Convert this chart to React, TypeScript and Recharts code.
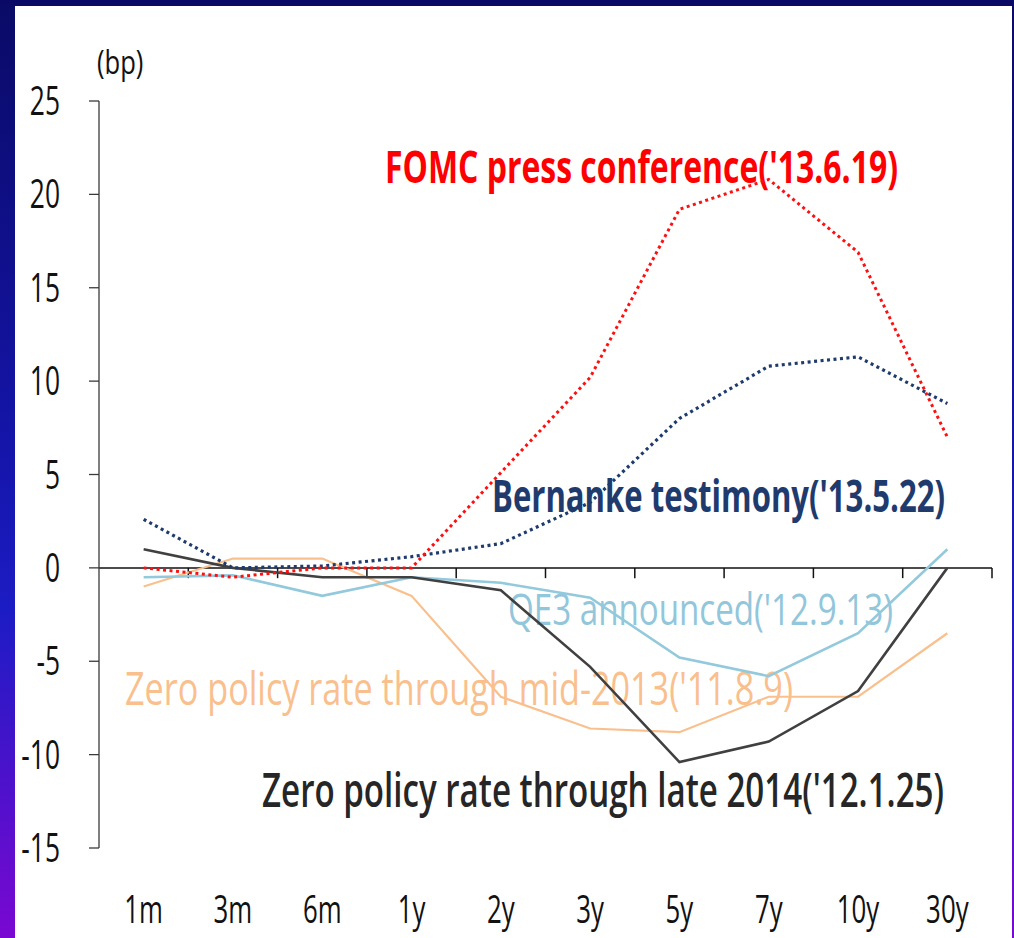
import React from "react";
import { LineChart, Line, XAxis, YAxis, ReferenceLine } from "recharts";

// yield change by maturity, bp
const tenors = ["1m", "3m", "6m", "1y", "2y", "3y", "5y", "7y", "10y", "30y"];
const fomcPress = [0, -0.5, 0, 0, 5.1, 10.2, 19.2, 20.8, 16.9, 7.0];
const bernanke = [2.6, 0, 0.1, 0.6, 1.3, 3.5, 8.0, 10.8, 11.3, 8.8];
const qe3 = [-0.5, -0.4, -1.5, -0.5, -0.8, -1.6, -4.8, -5.8, -3.5, 1.0];
const zeroMid2013 = [-1.0, 0.5, 0.5, -1.5, -6.9, -8.6, -8.8, -6.9, -6.9, -3.5];
const zeroLate2014 = [1.0, 0, -0.5, -0.5, -1.2, -5.3, -10.4, -9.3, -6.6, 0];
const yTicks = [-15, -10, -5, 0, 5, 10, 15, 20, 25];

const data = tenors.map((t, i) => ({
  pos: i + 0.5,
  tenor: t,
  fomc: fomcPress[i],
  bernanke: bernanke[i],
  qe3: qe3[i],
  mid2013: zeroMid2013[i],
  late2014: zeroLate2014[i],
}));
const boundaries = tenors.map((_, i) => i + 1);

const FONT = "'Open Sans', 'Noto Sans', sans-serif";
const AXIS = "#3a3a3a";

const XTick = (props: any) => {
  const { x, y, payload } = props;
  const label = tenors[Math.floor(payload.value)];
  return (
    <text
      transform={`translate(${x},${y + 67}) scale(0.68,1)`}
      textAnchor="middle"
      fontFamily={FONT}
      fontSize={38}
      fill="#111"
    >
      {label}
    </text>
  );
};

const YTick = (props: any) => {
  const { x, y, payload } = props;
  return (
    <text
      transform={`translate(${x - 27},${y + 14}) scale(0.66,1)`}
      textAnchor="end"
      fontFamily={FONT}
      fontSize={40}
      fill="#111"
    >
      {payload.value}
    </text>
  );
};

// series labels: text drawn small, then stretched vertically like the original
const notes = [
  { text: "FOMC press conference('13.6.19)", x: 385, y: 183, w: 513, size: 29, k: 1.56, color: "#ff0000", weight: 700 },
  { text: "Bernanke testimony('13.5.22)", x: 492, y: 512, w: 453, size: 29, k: 1.53, color: "#1f3b6e", weight: 700 },
  { text: "QE3 announced('12.9.13)", x: 508, y: 625, w: 385, size: 30, k: 1.48, color: "#92c6db", weight: 500 },
  { text: "Zero policy rate through mid-2013('11.8.9)", x: 125, y: 705, w: 668, size: 30, k: 1.5, color: "#f9c08e", weight: 500 },
  { text: "Zero policy rate through late 2014('12.1.25)", x: 262, y: 807, w: 682, size: 29, k: 1.64, color: "#262626", weight: 600 },
];

export default function App() {
  return (
    <div
      style={{
        position: "absolute",
        left: 0,
        top: 0,
        width: 1014,
        height: 938,
        background: "linear-gradient(180deg, #0a0a66 0%, #1414a6 45%, #1c1cc4 65%, #7a08d2 100%)",
        overflow: "hidden",
      }}
    >
      <div style={{ position: "absolute", left: 15, top: 6, width: 997, height: 932, background: "#fff" }} />
      <svg width={1014} height={938} style={{ position: "absolute", left: 0, top: 0 }}>
        <text
          transform="translate(97,74) scale(0.8,1)"
          fontFamily={FONT}
          fontSize={32}
          fill="#111"
        >
          (bp)
        </text>
        {notes.map((n) => (
          <text
            key={n.text}
            transform={`translate(${n.x},${n.y}) scale(1,${n.k})`}
            fontFamily={FONT}
            fontSize={n.size}
            fontWeight={n.weight}
            fill={n.color}
            textLength={n.w}
            lengthAdjust="spacingAndGlyphs"
          >
            {n.text}
          </text>
        ))}
      </svg>
      <div style={{ position: "absolute", left: 0, top: 0 }}>
        <LineChart width={1014} height={938} data={data} margin={{ top: 101, right: 22, bottom: 0, left: 0 }}>
          <XAxis
            type="number"
            dataKey="pos"
            domain={[0, 10]}
            ticks={tenors.map((_, i) => i + 0.5)}
            tick={<XTick />}
            axisLine={false}
            tickLine={false}
            height={90}
          />
          <YAxis
            domain={[-15, 25]}
            ticks={yTicks}
            width={99}
            tickSize={10}
            tick={<YTick />}
            axisLine={{ stroke: AXIS, strokeWidth: 1.3 }}
            tickLine={{ stroke: AXIS, strokeWidth: 1.3 }}
            interval={0}
          />
          <ReferenceLine y={0} stroke="#111" strokeWidth={1.5} />
          {boundaries.map((b) => (
            <ReferenceLine
              key={b}
              segment={[
                { x: b, y: 0 },
                { x: b, y: -0.55 },
              ]}
              stroke="#111"
              strokeWidth={1.5}
            />
          ))}
          <Line dataKey="mid2013" stroke="#f9c08e" strokeWidth={2.2} dot={false} isAnimationActive={false} />
          <Line dataKey="qe3" stroke="#93c9dc" strokeWidth={2.6} dot={false} isAnimationActive={false} />
          <Line dataKey="late2014" stroke="#404040" strokeWidth={2.6} dot={false} isAnimationActive={false} />
          <Line
            dataKey="bernanke"
            stroke="#1f3b6e"
            strokeWidth={3.2}
            strokeDasharray="3 3.5"
            dot={false}
            isAnimationActive={false}
          />
          <Line
            dataKey="fomc"
            stroke="#ff1010"
            strokeWidth={3}
            strokeDasharray="3 3.5"
            dot={false}
            isAnimationActive={false}
          />
        </LineChart>
      </div>
    </div>
  );
}
